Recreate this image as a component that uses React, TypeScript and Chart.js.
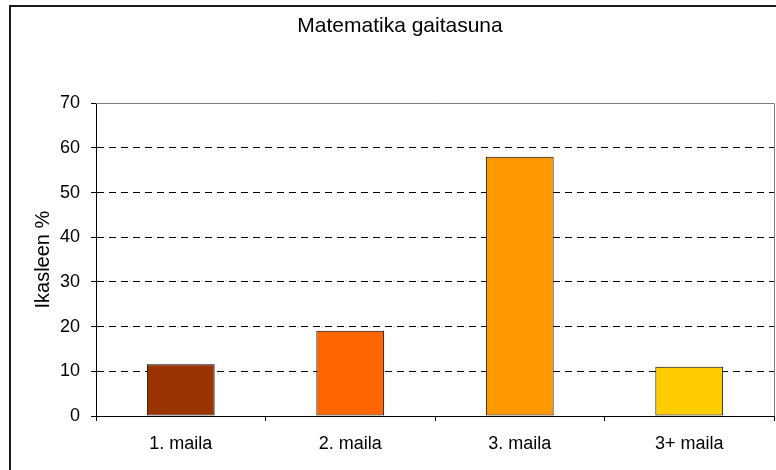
import React, { useEffect, useRef } from "react";
import { Chart, registerables } from "chart.js";

Chart.register(...registerables);

const chartTitle = "Matematika gaitasuna";
const yAxisTitle = "Ikasleen %";
const categories = ["1. maila", "2. maila", "3. maila", "3+ maila"];
const values = [11.6, 19.1, 58.0, 11.0];
const barColors = ["#993300", "#FF6600", "#FF9900", "#FFCC00"];
const yMin = 0;
const yMax = 70;
const yStep = 10;

const FONT = "'Liberation Sans', Arial, sans-serif";

const framePlugin = {
  id: "frame",
  afterDraw(chart: any) {
    const { ctx, chartArea } = chart;
    ctx.save();
    // plot area top & right border (gray)
    ctx.strokeStyle = "#808080";
    ctx.lineWidth = 1;
    ctx.beginPath();
    const t = Math.round(chartArea.top) + 0.5;
    const r = Math.round(chartArea.right) + 0.5;
    ctx.moveTo(Math.round(chartArea.left), t);
    ctx.lineTo(r, t);
    ctx.lineTo(r, Math.round(chartArea.bottom));
    ctx.stroke();
    // outer chart border
    ctx.strokeStyle = "#1a1a1a";
    ctx.lineWidth = 2;
    ctx.strokeRect(10, 6, 900, 600);
    ctx.restore();
  },
};

export default function App() {
  const ref = useRef<HTMLCanvasElement | null>(null);

  useEffect(() => {
    if (!ref.current) return;
    const chart = new Chart(ref.current, {
      type: "bar",
      data: {
        labels: categories,
        datasets: [
          {
            data: values,
            backgroundColor: barColors,
            borderColor: "#000000",
            borderWidth: 1,
            borderSkipped: false,
            barPercentage: 0.4,
            categoryPercentage: 1,
          },
        ],
      },
      options: {
        responsive: false,
        animation: false,
        layout: { padding: { left: 26, right: 2, top: 0, bottom: 0 } },
        plugins: {
          legend: { display: false },
          tooltip: { enabled: false },
          title: {
            display: true,
            text: chartTitle,
            color: "#000000",
            font: { family: FONT, size: 21, weight: "normal", lineHeight: 1.2 },
            padding: { top: 14, bottom: 64 },
          },
        },
        scales: {
          x: {
            grid: {
              display: true,
              drawOnChartArea: false,
              drawTicks: true,
              tickLength: 5,
              offset: true,
              color: "#000000",
              tickColor: "#000000",
            },
            border: { display: true, color: "#000000", width: 1 },
            ticks: {
              color: "#000000",
              font: { family: FONT, size: 18 },
              padding: 12,
              maxRotation: 0,
            },
            afterFit: (scale: any) => {
              scale.height = 54;
            },
          },
          y: {
            min: yMin,
            max: yMax,
            grid: {
              color: (c: any) =>
                c.tick && (c.tick.value === yMax || c.tick.value === yMin)
                  ? "rgba(0,0,0,0)"
                  : "#000000",
              tickColor: "#000000",
              tickLength: 5,
              tickBorderDash: [],
              drawTicks: true,
            } as any,
            border: { display: true, color: "#000000", width: 1, dash: [7, 5] },
            ticks: {
              stepSize: yStep,
              color: "#000000",
              font: { family: FONT, size: 18 },
              padding: 11,
            },
            title: {
              display: true,
              text: yAxisTitle,
              color: "#000000",
              font: { family: FONT, size: 20 },
              padding: { top: 5, bottom: 0 },
            },
            afterFit: (scale: any) => {
              scale.width = 70;
            },
          },
        },
      },
      plugins: [framePlugin],
    });
    return () => chart.destroy();
  }, []);

  return (
    <div style={{ position: "absolute", left: 0, top: 0, width: 776, height: 470, background: "#ffffff" }}>
      <canvas ref={ref} width={776} height={470} style={{ display: "block" }} />
    </div>
  );
}
